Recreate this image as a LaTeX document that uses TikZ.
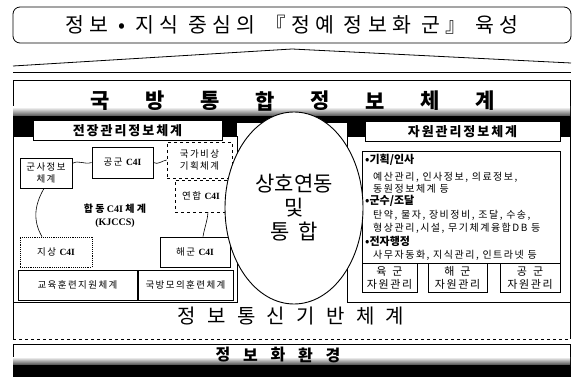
\documentclass[tikz,border=0pt]{standalone}
\usepackage{fontspec}
\setmainfont{Liberation Serif}
\newfontfamily\kr{Noto Sans CJK KR}
\newfontfamily\krs[LetterSpace=15]{Noto Sans CJK KR}
\newfontfamily\krw[LetterSpace=26]{Noto Sans CJK KR}
\usetikzlibrary{positioning,shapes.geometric}
\newcommand{\cfi}{{\rmfamily\bfseries C4I}}

\begin{document}
\begin{tikzpicture}[x=1pt, y=-1pt, line join=miter,
    sysbox/.style = {draw, line width=0.9pt, minimum height=30pt, inner sep=1pt, align=center, font=\krs\fontsize{9.5}{12.5}\selectfont},
    planbox/.style = {sysbox, dashed, line width=0.7pt},
    paneltitle/.style = {draw, fill=white, line width=1pt, minimum height=20pt, font=\krs\bfseries\fontsize{13}{15}\selectfont},
    resbox/.style = {draw, line width=0.8pt, minimum height=29pt, inner sep=1pt, align=center, font=\krs\fontsize{11}{13.5}\selectfont},
    head/.style = {anchor=west, inner sep=0pt, font=\kr\bfseries\fontsize{11}{13}\selectfont},
    item/.style = {anchor=west, inner sep=0pt, font=\krs\fontsize{10}{11}\selectfont},
    bigchar/.style = {inner sep=0pt, font=\kr\fontsize{21}{21}\selectfont},
    link/.style = {line width=0.6pt}]
\useasboundingbox (0,0) rectangle (573,377);

% Goal
\node[draw, rounded corners=7pt, line width=0.8pt, minimum width=558pt, minimum height=36pt,
      font=\krw\fontsize{20.5}{22}\selectfont] (goal) at (292,25) {정보 • 지식 중심의 『정예 정보화 군』 육성};
\draw[line width=0.8pt] (13,66) -- (292,49) -- (571,63);
\draw[line width=0.6pt] (13,72) -- (571,72);

% Frames
\draw[line width=0.8pt] (13,339) -- (13,80) -- (570,80) -- (570,339);
\draw[dashed, line width=0.8pt] (13,339) -- (570,339);
\draw[line width=0.9pt] (13,136) rectangle (237,302);
\draw[line width=0.9pt] (347,136) rectangle (570,302);

% Band
\shade[top color=white, bottom color=black!75] (13,107) rectangle (570,117);
\fill[black] (13,116) rectangle (570,123);
\fill[black] (13,122) rectangle (237,136);
\fill[black] (347,122) rectangle (570,136);
\foreach \c [count=\i from 0] in {국,방,통,합,정,보,체,계}
    \node[bigchar, font=\kr\bfseries\fontsize{21}{21}\selectfont] (ban\i) at (100+55*\i,101) {\c};
\node[paneltitle, minimum width=189pt] (battle) at (127.5,130.5) {전장관리정보체계};
\node[paneltitle, minimum width=195pt] (resource) at (462.5,132) {자원관리정보체계};

% Nodes
\node[sysbox, minimum width=52pt] (gunsa) at (46,173) {군사정보\\체계};
\node[sysbox, minimum width=61pt, minimum height=31pt] (gonggun) at (122.5,162.5) {공군 \cfi};
\node[planbox, minimum width=65pt, minimum height=36pt] (gukga) at (199.5,160) {국가비상\\기획체계};
\node[planbox, minimum width=52pt, minimum height=32pt] (yeonhap) at (201,196) {연합 \cfi};
\node[align=center, font=\kr\bfseries\fontsize{10}{13}\selectfont] (kjccs) at (115,216) {합 동 \cfi\ 체 계\\{\rmfamily\bfseries (KJCCS)}};
\node[sysbox, densely dotted, line width=0.6pt, minimum width=72pt] (jisang) at (56,252) {지상 \cfi};
\node[sysbox, minimum width=70pt] (haegun) at (195,252) {해군 \cfi};
\node[sysbox, minimum width=119pt] (gyoyuk) at (77.5,285) {교육훈련지원체계};
\node[sysbox, minimum width=95pt, inner sep=0pt] (gukbang) at (185.5,285) {국방모의훈련체계};

\node[draw, line width=1pt, minimum width=198pt, minimum height=111pt] (list) at (461,207.5) {};
\node[head] (h1) at (365,160) {•기획/인사};
\node[item] (i1) at (373,177) {예산관리, 인사정보, 의료정보,};
\node[item] (i2) at (373,189) {동원정보체계 등};
\node[head] (h2) at (365,201) {•군수/조달};
\node[item] (i3) at (373,215) {탄약, 물자, 장비정비, 조달, 수송,};
\node[item] (i4) at (373,228) {형상관리,시설, 무기체계융합DB 등};
\node[head] (h3) at (365,241) {•전자행정};
\node[item] (i5) at (373,255) {사무자동화, 지식관리, 인트라넷 등};
\node[resbox, minimum width=55pt] (yukres) at (389.5,278) {육\hspace{6pt}군\\자원관리};
\node[resbox, minimum width=59pt] (haeres) at (457.5,278) {해\hspace{6pt}군\\자원관리};
\node[resbox, minimum width=60pt] (gongres) at (530,278) {공\hspace{6pt}군\\자원관리};

% Center
\node[ellipse, draw, fill=white, line width=0.9pt, minimum width=138pt, minimum height=192pt,
      align=center, font=\kr\fontsize{21}{24}\selectfont] (joint) at (294,208) {상호연동\\및\\통\hspace{9pt}합};

% Bottom
\foreach \c [count=\i from 0] in {정,보,통,신,기,반,체,계}
    \node[bigchar, font=\kr\fontsize{20}{20}\selectfont] (net\i) at (187+29.7*\i,316) {\c};
\draw[line width=0.8pt] (13,377) -- (13,344) -- (570,344) -- (570,377);
\shade[top color=white, bottom color=black!80] (13,357) rectangle (570,366);
\fill[black] (13,365) rectangle (570,377);
\foreach \c [count=\i from 0] in {정,보,화,환,경}
    \node[bigchar, font=\kr\bfseries\fontsize{16}{16}\selectfont] (env\i) at (223+27.5*\i,355) {\c};

% Edges
\draw[link] ([xshift=-2pt]gunsa.south) to[out=-120,in=120] ([xshift=-14pt]jisang.north);
\draw[link] (gunsa.20) to[out=30,in=200] (gonggun.west);
\draw[link] (gonggun.east) to[out=-30,in=190] (gukga.west);
\draw[link] ([xshift=7pt]yeonhap.south) to[out=-95,in=80] ([xshift=8pt]haegun.north);
\end{tikzpicture}
\end{document}
